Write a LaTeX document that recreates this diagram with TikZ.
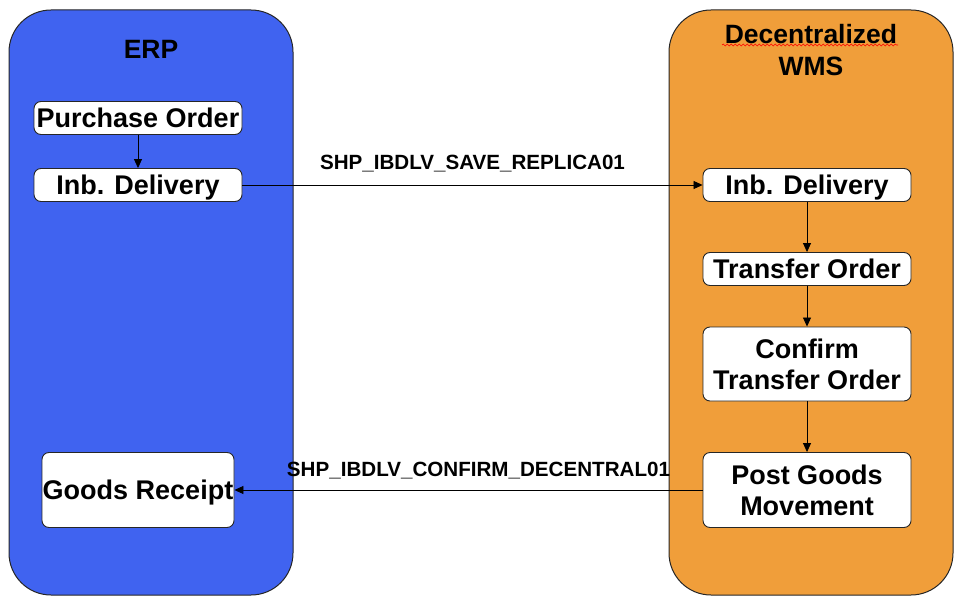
\documentclass[tikz,border=0pt]{standalone}
\usepackage{fontspec}
\setmainfont{Liberation Sans}
\usetikzlibrary{arrows.meta,decorations.pathmorphing}
\definecolor{erpblue}{RGB}{64,99,240}
\definecolor{wmsorange}{RGB}{240,158,58}
\begin{document}
\begin{tikzpicture}[x=1pt,y=-1pt,
  lane/.style={draw=black!85,line width=1pt,rounded corners=42pt},
  stepbox/.style={draw=black!85,fill=white,line width=0.9pt,rounded corners=7pt,inner sep=0pt,
    font=\fontsize{27}{31}\selectfont\bfseries,align=center,text depth=0pt},
  title/.style={font=\fontsize{26.5}{32}\selectfont\bfseries,align=center,inner sep=0pt},
  lbl/.style={font=\fontsize{20.6}{22}\selectfont\bfseries,inner sep=0pt},
  conn/.style={line width=0.8pt,-{Triangle[length=9pt,width=8pt]}}]
\useasboundingbox (0,0) rectangle (960,604);
% lanes
\draw[lane,fill=erpblue] (9,10) rectangle (293,595);
\draw[lane,fill=wmsorange] (669,10) rectangle (953,595);
\node[title] (erp) at (151,49) {ERP};
\node[title] (wms) at (811,50) {Decentralized\\WMS};
\draw[red,line width=0.6pt,decorate,
  decoration={snake,amplitude=0.9pt,segment length=4pt}] (722,45) -- (898,45);
% ERP steps
\node[stepbox,minimum width=208pt,minimum height=33pt] (po) at (138,118) {Purchase Order};
\node[stepbox,minimum width=208pt,minimum height=33pt] (idl) at (138,185) {Inb. Delivery};
\node[stepbox,minimum width=192pt,minimum height=75pt] (gr) at (138,490) {Goods Receipt};
% WMS steps
\node[stepbox,minimum width=208pt,minimum height=33pt] (idr) at (807,185) {Inb. Delivery};
\node[stepbox,minimum width=208pt,minimum height=33pt] (to) at (807,269) {Transfer Order};
\node[stepbox,minimum width=208pt,minimum height=74pt] (cto) at (807,364) {Confirm\\Transfer Order};
\node[stepbox,minimum width=208pt,minimum height=75pt] (pgm) at (807,490) {Post Goods\\Movement};
% connectors
\draw[conn] (po) -- (idl);
\draw[conn] (idr) -- (to);
\draw[conn] (to) -- (cto);
\draw[conn] (cto) -- (pgm);
\draw[conn] (idl) -- node[lbl,above=13pt,pos=0.5] (l1) {SHP\_IBDLV\_SAVE\_REPLICA01} (idr);
\draw[conn] (pgm) -- node[lbl,above=11pt,pos=0.5,xshift=10pt] (l2) {SHP\_IBDLV\_CONFIRM\_DECENTRAL01} (gr);
\end{tikzpicture}
\end{document}
